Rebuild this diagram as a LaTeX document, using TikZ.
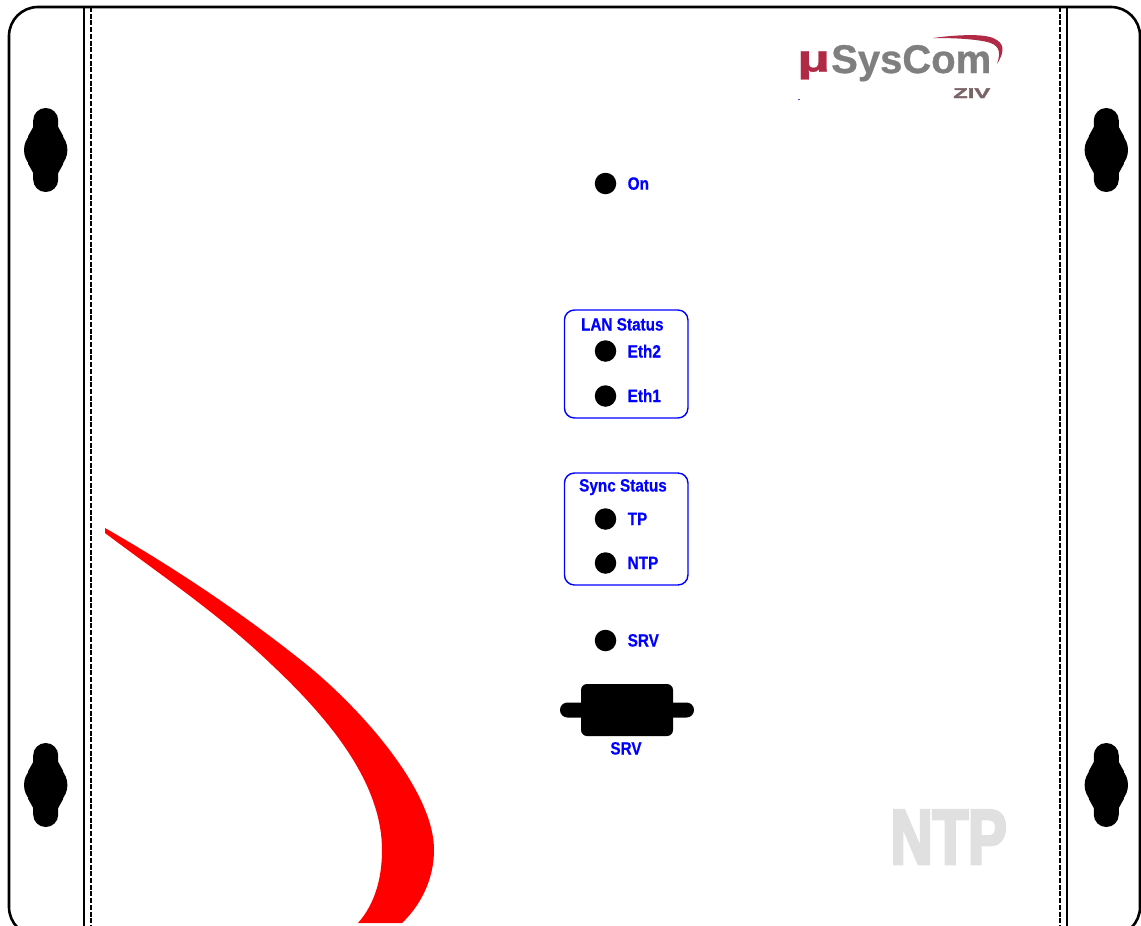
\documentclass[tikz,border=0pt]{standalone}
\usepackage{fontspec}
\setmainfont{Liberation Sans}
\newfontfamily\lblfont[FakeStretch=0.86,FakeBold=0.5]{Liberation Sans Bold}
\newfontfamily\ntpfont[FakeStretch=0.745,FakeBold=3.5]{Liberation Sans Bold}
\newfontfamily\logofont[FakeBold=0.8]{Liberation Sans Bold}
\newfontfamily\mufont[FakeStretch=1.5,FakeBold=0.8]{Liberation Sans Bold}
\newfontfamily\zivfont[FakeStretch=1.7,FakeBold=2.5]{Liberation Sans Bold}
\definecolor{logored}{HTML}{B02A45}
\definecolor{logogray}{HTML}{7F7F80}
\definecolor{zivcol}{HTML}{7A6466}
\tikzset{
  outline/.style={draw=black,line width=2.6pt},
  led/.style={circle,fill=black,draw=none,minimum size=21.5pt,inner sep=0pt},
  lbl/.style={text=blue,font=\lblfont\fontsize{17.8}{19}\selectfont,inner sep=0pt,anchor=base west},
  ttl/.style={text=blue,font=\lblfont\fontsize{17.8}{19}\selectfont,inner sep=0pt,anchor=base},
  statusbox/.style={draw=blue,line width=1.4pt,rounded corners=10pt,fill=none},
  hole/.style={fill=black,draw=none}
}
\newcommand{\keyhole}[2]{%
  \fill[hole] (#1,#2) circle[radius=21.7pt];
  \fill[hole,rounded corners=12.4pt] (#1-12.5,#2-42) rectangle (#1+12.5,#2+42);
  \fill[hole] (#1-12.5,#2-23) -- (#1-17.5,#2-14) -- (#1-17.5,#2+14) -- (#1-12.5,#2+23) -- (#1+12.5,#2+23) -- (#1+17.5,#2+14) -- (#1+17.5,#2-14) -- (#1+12.5,#2-23) -- cycle;
}
\begin{document}
\begin{tikzpicture}[x=1pt,y=-1pt]
\useasboundingbox (0,0) rectangle (1141,926);
\clip (0,0) rectangle (1141,926);
\fill[white] (0,0) rectangle (1141,926);
% red swoosh
\fill[red] (105,528) .. controls (175,568) and (245,615) .. (307,665)
  .. controls (360,708) and (434,790) .. (434,850)
  .. controls (434,880) and (420,906) .. (402,923)
  -- (358,923)
  .. controls (374,905) and (382,880) .. (382,850)
  .. controls (382,780) and (325,715) .. (272,665)
  .. controls (220,615) and (165,578) .. (105,533) -- cycle;
% case
\draw[outline,rounded corners=29pt] (9,7) rectangle (1140,936);
\draw[draw=black,line width=2.6pt] (84,7) -- (84,926);
\draw[draw=black,line width=2.6pt] (1067,7) -- (1067,926);
\draw[draw=black,line width=2.6pt,dash pattern=on 5pt off 1.7pt] (91,7) -- (91,926);
\draw[draw=black,line width=2.6pt,dash pattern=on 5pt off 1.7pt] (1060,7) -- (1060,926);
% mounting holes
\keyhole{45.7}{150}
\keyhole{45.7}{785}
\keyhole{1106.3}{150}
\keyhole{1106.3}{785}
% logo
\fill[logored] (933,38) .. controls (955,35) and (985,33) .. (995,39)
  .. controls (1003,43) and (1006,50) .. (997,64)
  .. controls (1002,50) and (998,44) .. (985,41.5)
  .. controls (970,38.5) and (950,38) .. (933,38) -- cycle;
\node[inner sep=0pt,anchor=base west,text=logored,font=\mufont\fontsize{38}{38}\selectfont] (mu) at (797,71.5) {µ};
\node[inner sep=0pt,anchor=base west,text=logogray,font=\logofont\fontsize{40}{42}\selectfont] (sys) at (831,73) {SysCom};
\node[inner sep=0pt,anchor=base west,text=zivcol,font=\zivfont\fontsize{14}{14}\selectfont] (ziv) at (953,98) {ZIV};
\fill[blue!70] (798,98.5) rectangle (799.5,100);
% status boxes
\node[statusbox,minimum width=123.5pt,minimum height=108pt,inner sep=0pt] (lanbox) at (626.2,364) {};
\node[statusbox,minimum width=123.5pt,minimum height=112pt,inner sep=0pt] (syncbox) at (626.2,529) {};
\node[ttl] (lantitle) at (622.3,330.5) {LAN Status};
\node[ttl] (synctitle) at (623,491.5) {Sync Status};
% LEDs
\node[led] (ledon) at (605.5,183.5) {};
\node[led] (ledeth2) at (605.5,351) {};
\node[led] (ledeth1) at (605.5,396) {};
\node[led] (ledtp) at (605.5,519) {};
\node[led] (ledntp) at (605.5,563) {};
\node[led] (ledsrv) at (605.5,640.5) {};
\node[lbl] (lon) at (627.5,189.7) {On};
\node[lbl] (leth2) at (627.5,357.5) {Eth2};
\node[lbl] (leth1) at (627.5,402) {Eth1};
\node[lbl] (ltp) at (627.5,525) {TP};
\node[lbl] (lntp) at (627.5,569) {NTP};
\node[lbl] (lsrv) at (627.5,646.5) {SRV};
% connector
\fill[black,rounded corners=7.4pt] (560,702.5) rectangle (694,717.5);
\fill[black,rounded corners=6pt] (581,684) rectangle (673,736);
\node[ttl] (srvname) at (626,754.5) {SRV};
% NTP mark
\node[inner sep=0pt,anchor=base east,text=black!12,font=\ntpfont\fontsize{78}{78}\selectfont] (ntpmark) at (1007,864) {NTP};
\end{tikzpicture}
\end{document}
